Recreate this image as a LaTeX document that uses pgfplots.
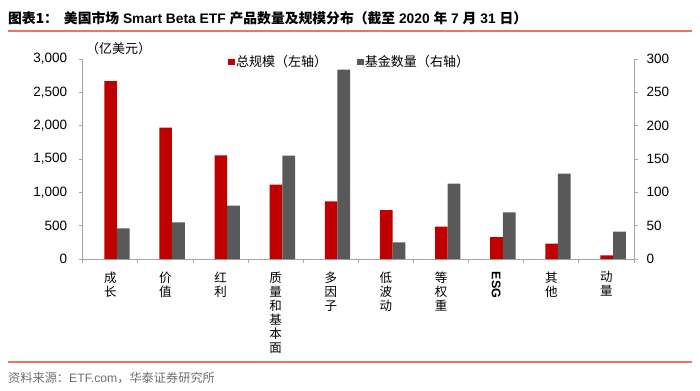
\documentclass[border=0pt]{standalone}
\usepackage{pgfplots}
\pgfplotsset{compat=1.18}
\usepackage{fontspec}
\setmainfont{Liberation Sans}
\newfontfamily\cjk{Noto Sans CJK SC}
\definecolor{barred}{RGB}{192,0,0}
\definecolor{bargray}{RGB}{89,89,89}
\definecolor{axgray}{RGB}{166,166,166}
\definecolor{linered}{RGB}{232,118,104}
\definecolor{srcgray}{RGB}{110,110,110}
\begin{document}
\begin{tikzpicture}[x=1bp,y=1bp]
\path[use as bounding box] (0,0) rectangle (700,390);
\node[anchor=west, inner sep=0] at (8,372) {\fontsize{13.8bp}{16bp}\selectfont\bfseries {\cjk 图表1：}\hspace{6bp}{\cjk 美国市场} Smart Beta ETF {\cjk 产品数量及规模分布（截至} 2020 {\cjk 年} 7 {\cjk 月} 31 {\cjk 日）}};
\draw[linered, line width=1.2bp] (8,359) -- (692,359);
\draw[linered, line width=1.2bp] (8,28) -- (692,28);
\node[anchor=west, inner sep=0, text=srcgray] at (8,12) {\fontsize{12.2bp}{14bp}\selectfont{\cjk 资料来源：}ETF.com{\cjk ，华泰证券研究所}};
\node[anchor=west, inner sep=0] at (86,341) {\fontsize{13bp}{15bp}\selectfont\cjk （亿美元）};
\begin{axis}[
  at={(82.7bp,131bp)}, anchor=south west, scale only axis,
  width=551.3bp, height=200bp,
  xmin=-0.5, xmax=9.5, ymin=0, ymax=3000,
  ytick={0,500,...,3000},
  axis y line*=left, axis x line*=bottom,
  axis line style={-, axgray, line width=1bp},
  xtick={0,...,9},
  xticklabels={{成\\长},{价\\值},{红\\利},{质\\量\\和\\基\\本\\面},{多\\因\\子},{低\\波\\动},{等\\权\\重},{\rotatebox{-90}{\rmfamily\bfseries ESG}},{其\\他},{动\\量}},
  major x tick style={draw=none},
  minor xtick={-0.5,0.5,...,9.5},
  tick align=outside, major tick length=4bp, minor tick length=4bp,
  tick style={axgray, line width=0.8bp},
  scaled y ticks=false,
  /pgf/number format/assume math mode=true,
  /pgf/number format/1000 sep={,},
  yticklabel style={font=\fontsize{13.5bp}{15bp}\selectfont, xshift=-8bp},
  xticklabel style={font=\fontsize{12.5bp}{14bp}\selectfont\cjk, align=center, anchor=north, inner sep=0pt, yshift=-8.5bp},
  legend style={draw=none, fill=none, inner sep=0pt, at={(0.2636,0.985)}, anchor=west,
    legend columns=2, font=\fontsize{13bp}{15bp}\selectfont\cjk,
    /tikz/every even column/.append style={column sep=28bp}},
  legend cell align=left,
]
\addlegendimage{legend image code/.code={\fill[barred] (0bp,-2.5bp) rectangle (5.5bp,3bp);}}
\addlegendentry{总规模（左轴）}
\addlegendimage{legend image code/.code={\fill[bargray] (0bp,-2.5bp) rectangle (5.5bp,3bp);}}
\addlegendentry{基金数量（右轴）}
\addplot[ybar, bar width=12.6bp, bar shift=0.3bp, fill=barred, draw=none, forget plot]
  coordinates {(0,2670) (1,1970) (2,1555) (3,1115) (4,865) (5,735) (6,485) (7,330) (8,230) (9,55)};
\end{axis}
\begin{axis}[
  at={(82.7bp,131bp)}, anchor=south west, scale only axis,
  width=551.3bp, height=200bp,
  xmin=-0.5, xmax=9.5, ymin=0, ymax=300,
  ytick={0,50,...,300},
  axis y line*=right, axis x line=none,
  axis line style={-, axgray, line width=1bp},
  tick align=outside, major tick length=4bp,
  tick style={axgray, line width=0.8bp},
  /pgf/number format/assume math mode=true,
  yticklabel style={font=\fontsize{13.5bp}{15bp}\selectfont, xshift=5bp},
]
\addplot[ybar, bar width=12.8bp, bar shift=13bp, fill=bargray, draw=none]
  coordinates {(0,46) (1,55) (2,80) (3,155) (4,284) (5,25) (6,113) (7,70) (8,128) (9,41)};
\end{axis}
\end{tikzpicture}
\end{document}
